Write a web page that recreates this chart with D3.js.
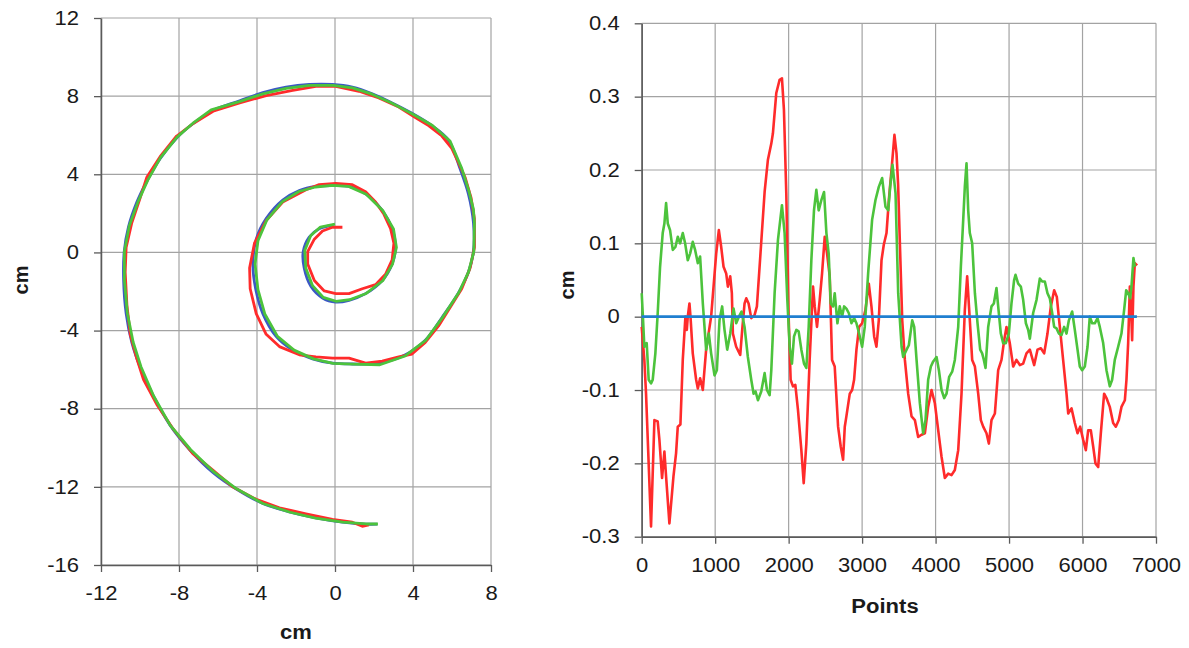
<!DOCTYPE html>
<html><head><meta charset="utf-8">
<script src="https://cdn.jsdelivr.net/npm/d3@7"></script>
<style>body{margin:0;background:#fff}svg{display:block}text{font-family:"Liberation Sans",Arial,sans-serif;fill:#1a1a1a}</style>
</head><body><svg id="c" width="1189" height="648"></svg>
<script>
// ---- tick labels ----
const spiralXTicks = [-12,-8,-4,0,4,8];
const spiralYTicks = [12,8,4,0,-4,-8,-12,-16];
const pointsXTicks = [0,1000,2000,3000,4000,5000,6000,7000];
const devYTicks = [0.4,0.3,0.2,0.1,0,-0.1,-0.2,-0.3];

// ---- spiral traces (cm) ----
const spiralBlue = [[-0.08,1.40],[-0.81,1.21],[-1.32,0.78],[-1.63,0.04],[-1.58,-0.80],[-1.23,-1.75],[-0.64,-2.33],[0.04,-2.54],[0.72,-2.45],[1.57,-2.11],[2.42,-1.44],[2.93,-0.59],[3.10,0.25],[2.93,1.21],[2.42,2.16],[1.57,3.0],[0.72,3.38],[-0.13,3.42],[-0.98,3.38],[-1.83,3.17],[-2.68,2.68],[-3.53,1.73],[-4.04,0.68],[-4.21,-0.59],[-4.07,-1.86],[-3.70,-3.13],[-3.02,-4.29],[-2.17,-4.99],[-1.15,-5.45],[-0.13,-5.67],[0.89,-5.71],[2.25,-5.67],[3.61,-5.24],[4.63,-4.50],[5.48,-3.34],[6.33,-2.07],[6.84,-1.01],[7.10,0.04],[7.10,1.52],[6.84,3.00],[6.42,4.27],[5.82,5.75],[4.97,6.49],[3.95,7.12],[2.93,7.65],[1.91,8.12],[0.89,8.46],[-0.13,8.60],[-1.32,8.60],[-2.51,8.46],[-3.70,8.18],[-4.89,7.76],[-6.25,7.27],[-7.27,6.60],[-8.12,5.86],[-8.97,4.80],[-9.65,3.64],[-10.16,2.58],[-10.59,1.31],[-10.81,0.04],[-10.84,-1.44],[-10.71,-3.13],[-10.42,-4.61],[-9.99,-5.88],[-9.31,-7.36],[-8.46,-8.84],[-7.44,-10.11],[-6.25,-11.27],[-5.06,-12.11],[-3.70,-12.85],[-2.34,-13.28],[-0.98,-13.59],[0.38,-13.81],[1.57,-13.91],[2.17,-13.91]];
const spiralRed = [[0.38,1.29],[-0.13,1.29],[-0.64,1.1],[-1.06,0.68],[-1.40,0.04],[-1.40,-0.59],[-1.06,-1.44],[-0.55,-1.97],[0.04,-2.11],[0.72,-2.11],[1.40,-1.86],[2.08,-1.65],[2.59,-1.12],[2.93,-0.38],[3.02,0.47],[2.85,1.21],[2.51,1.95],[2.08,2.58],[1.57,3.11],[0.89,3.47],[0.04,3.53],[-0.81,3.47],[-1.49,3.21],[-2.68,2.58],[-3.53,1.63],[-4.13,0.47],[-4.38,-0.80],[-4.35,-1.86],[-4.04,-3.13],[-3.53,-4.19],[-2.85,-4.82],[-1.83,-5.24],[-0.98,-5.35],[-0.13,-5.41],[0.72,-5.41],[1.57,-5.67],[2.42,-5.56],[3.27,-5.35],[3.95,-5.20],[4.63,-4.61],[5.31,-3.76],[5.91,-2.81],[6.50,-1.86],[6.93,-0.80],[7.15,0.25],[7.15,1.73],[6.98,2.79],[6.67,3.85],[6.33,4.59],[5.99,5.33],[5.48,5.96],[4.80,6.49],[4.12,6.91],[3.27,7.44],[2.25,7.91],[1.23,8.25],[0.04,8.50],[-0.98,8.50],[-2.17,8.29],[-3.53,8.03],[-4.89,7.65],[-6.25,7.23],[-7.27,6.60],[-8.12,5.96],[-8.97,4.90],[-9.65,3.85],[-9.99,2.79],[-10.42,1.52],[-10.71,0.25],[-10.76,-1.01],[-10.67,-2.71],[-10.50,-4.19],[-10.16,-5.45],[-9.82,-6.51],[-9.14,-7.78],[-8.29,-9.05],[-7.27,-10.32],[-6.25,-11.16],[-5.23,-12.01],[-4.04,-12.64],[-2.85,-13.07],[-1.49,-13.38],[-0.13,-13.66],[0.89,-13.81],[1.40,-14.02],[1.74,-13.95]];
const spiralGreen = [[0.0,1.45],[-0.75,1.3],[-1.25,0.85],[-1.55,0.1],[-1.5,-0.8],[-1.15,-1.7],[-0.6,-2.3],[0.05,-2.5],[0.75,-2.42],[1.6,-2.1],[2.45,-1.45],[2.95,-0.6],[3.15,0.25],[3.0,1.2],[2.45,2.15],[1.6,2.98],[0.7,3.38],[-0.15,3.43],[-1.0,3.35],[-1.85,3.12],[-2.7,2.6],[-3.5,1.65],[-3.95,0.6],[-4.1,-0.6],[-3.95,-1.9],[-3.6,-3.15],[-2.95,-4.3],[-2.1,-5.0],[-1.1,-5.45],[-0.1,-5.68],[0.9,-5.72],[2.3,-5.75],[3.6,-5.3],[4.65,-4.5],[5.5,-3.35],[6.35,-2.05],[6.85,-1.0],[7.12,0.05],[7.15,1.5],[7.1,2.2],[6.85,3.2],[6.5,4.3],[5.9,5.7],[5.0,6.5],[3.95,7.1],[2.9,7.65],[1.9,8.1],[0.9,8.42],[-0.1,8.55],[-1.3,8.55],[-2.5,8.4],[-3.7,8.12],[-4.9,7.72],[-6.35,7.3],[-7.3,6.6],[-8.1,5.9],[-8.95,4.85],[-9.6,3.7],[-10.1,2.6],[-10.55,1.35],[-10.8,0.05],[-10.8,-1.4],[-10.65,-3.1],[-10.35,-4.6],[-9.95,-5.85],[-9.3,-7.35],[-8.45,-8.85],[-7.4,-10.1],[-6.2,-11.25],[-5.05,-12.1],[-3.7,-12.85],[-2.3,-13.3],[-1.0,-13.6],[0.4,-13.8],[1.6,-13.9],[2.2,-13.9]];

// ---- deviation series (point index, cm) ----
const devBlue = [[0,0],[6740,0]];
const devRed = [[0,-0.014],[36,-0.059],[59,-0.105],[127,-0.286],[173,-0.141],[218,-0.143],[241,-0.168],[277,-0.22],[309,-0.184],[332,-0.218],[377,-0.282],[432,-0.218],[468,-0.186],[491,-0.15],[527,-0.147],[559,-0.059],[595,0],[614,-0.018],[627,0],[650,0.018],[664,0],[695,-0.05],[741,-0.086],[764,-0.098],[795,-0.084],[832,-0.1],[877,-0.045],[945,0],[1014,0.086],[1050,0.118],[1082,0.095],[1114,0.068],[1150,0.059],[1173,0.041],[1205,0.055],[1227,0.032],[1241,-0.023],[1286,-0.041],[1341,-0.052],[1368,-0.018],[1400,0.018],[1423,0.025],[1455,0.018],[1491,-0.002],[1536,0.002],[1568,0.014],[1614,0.082],[1673,0.17],[1718,0.214],[1764,0.236],[1786,0.25],[1832,0.305],[1877,0.323],[1909,0.325],[1936,0.282],[1968,0.168],[2000,0],[2027,-0.086],[2059,-0.095],[2091,-0.093],[2127,-0.127],[2173,-0.182],[2205,-0.227],[2241,-0.173],[2286,-0.059],[2332,0.041],[2355,0.014],[2386,-0.014],[2423,0.023],[2455,0.059],[2491,0.109],[2523,0.086],[2559,0.055],[2591,-0.059],[2627,-0.068],[2673,-0.15],[2709,-0.177],[2741,-0.195],[2764,-0.15],[2786,-0.136],[2832,-0.105],[2864,-0.1],[2891,-0.086],[2923,-0.045],[2959,-0.014],[3000,-0.009],[3045,0.009],[3091,0.045],[3127,0.014],[3164,-0.027],[3195,-0.041],[3227,-0.005],[3264,0.077],[3295,0.098],[3332,0.114],[3364,0.159],[3400,0.2],[3440,0.248],[3468,0.223],[3490,0.18],[3514,0.1],[3546,-0.005],[3582,-0.059],[3627,-0.105],[3673,-0.136],[3718,-0.141],[3763,-0.164],[3809,-0.161],[3854,-0.159],[3899,-0.123],[3945,-0.1],[3990,-0.118],[4036,-0.155],[4081,-0.191],[4126,-0.22],[4172,-0.214],[4217,-0.216],[4262,-0.209],[4308,-0.182],[4353,-0.105],[4398,0.009],[4430,0.055],[4466,-0.005],[4498,-0.059],[4535,-0.068],[4580,-0.105],[4616,-0.141],[4648,-0.15],[4693,-0.159],[4725,-0.173],[4761,-0.141],[4807,-0.132],[4852,-0.073],[4897,-0.059],[4934,-0.032],[4965,-0.014],[5010,-0.036],[5056,-0.068],[5101,-0.059],[5147,-0.066],[5192,-0.064],[5237,-0.05],[5283,-0.045],[5342,-0.066],[5387,-0.045],[5433,-0.043],[5478,-0.05],[5523,-0.023],[5569,0.014],[5614,0.036],[5650,0.027],[5691,-0.014],[5736,-0.059],[5782,-0.105],[5805,-0.132],[5850,-0.125],[5895,-0.145],[5932,-0.159],[5968,-0.15],[6009,-0.168],[6045,-0.182],[6077,-0.155],[6113,-0.155],[6145,-0.177],[6176,-0.2],[6213,-0.205],[6249,-0.159],[6294,-0.105],[6326,-0.111],[6371,-0.123],[6417,-0.145],[6453,-0.15],[6494,-0.141],[6530,-0.123],[6576,-0.114],[6598,-0.086],[6621,-0.036],[6644,0.041],[6666,-0.005],[6675,-0.032],[6693,0.041],[6712,0.073],[6743,0.07]];
const devGreen = [[0,0.032],[14,0.005],[36,-0.041],[68,-0.036],[95,-0.086],[127,-0.091],[150,-0.086],[186,-0.05],[218,0.005],[250,0.068],[286,0.114],[309,0.127],[332,0.155],[355,0.127],[386,0.118],[423,0.091],[459,0.095],[491,0.109],[523,0.1],[559,0.114],[591,0.1],[627,0.077],[659,0.086],[695,0.102],[727,0.091],[764,0.073],[795,0.082],[832,0.018],[877,-0.045],[914,-0.023],[945,-0.05],[991,-0.08],[1023,-0.073],[1059,-0.005],[1095,0.014],[1127,-0.018],[1164,-0.045],[1205,-0.023],[1250,0.011],[1286,-0.009],[1323,0],[1359,0.007],[1400,-0.014],[1445,-0.055],[1491,-0.086],[1523,-0.105],[1550,-0.102],[1582,-0.114],[1627,-0.102],[1673,-0.077],[1705,-0.1],[1741,-0.107],[1764,-0.073],[1809,0.032],[1855,0.105],[1909,0.152],[1945,0.114],[1982,0.023],[2014,-0.041],[2045,-0.064],[2073,-0.027],[2105,-0.018],[2136,-0.02],[2173,-0.045],[2209,-0.064],[2241,-0.07],[2273,-0.014],[2309,0.077],[2345,0.145],[2377,0.173],[2409,0.145],[2445,0.159],[2482,0.17],[2514,0.114],[2545,0.086],[2573,0.018],[2605,0.014],[2627,0.032],[2664,-0.009],[2695,0.014],[2727,0],[2755,0.014],[2786,0.011],[2818,0.005],[2855,-0.009],[2891,-0.002],[2923,-0.009],[2959,-0.023],[3000,-0.041],[3036,-0.014],[3082,0.059],[3136,0.132],[3182,0.159],[3227,0.177],[3273,0.189],[3318,0.15],[3355,0.145],[3382,0.177],[3414,0.207],[3455,0.168],[3491,0.032],[3537,-0.041],[3559,-0.055],[3605,-0.045],[3636,-0.039],[3682,-0.005],[3709,-0.014],[3741,-0.059],[3786,-0.118],[3831,-0.159],[3863,-0.141],[3899,-0.086],[3936,-0.068],[3968,-0.061],[4013,-0.055],[4045,-0.073],[4081,-0.1],[4117,-0.111],[4149,-0.105],[4185,-0.082],[4226,-0.075],[4262,-0.059],[4308,-0.014],[4344,0.068],[4376,0.132],[4398,0.177],[4421,0.209],[4444,0.145],[4466,0.114],[4498,0.1],[4535,0.032],[4571,-0.009],[4607,-0.045],[4634,-0.05],[4657,-0.059],[4680,-0.07],[4716,-0.014],[4761,0.014],[4793,0.018],[4829,0.039],[4852,0.014],[4888,-0.023],[4920,-0.036],[4956,-0.036],[4997,-0.023],[5033,0.018],[5069,0.05],[5088,0.057],[5124,0.045],[5160,0.041],[5192,0.023],[5229,-0.009],[5260,-0.018],[5283,-0.03],[5328,0.005],[5374,0.023],[5419,0.052],[5451,0.048],[5487,0.048],[5523,0.032],[5555,0.025],[5587,0.005],[5614,-0.014],[5646,-0.016],[5678,-0.023],[5714,-0.025],[5750,-0.014],[5782,-0.023],[5814,-0.005],[5859,0.007],[5895,-0.018],[5932,-0.045],[5963,-0.068],[5995,-0.073],[6031,-0.068],[6068,-0.041],[6099,0],[6131,-0.009],[6167,-0.009],[6204,-0.002],[6235,-0.014],[6281,-0.036],[6326,-0.073],[6371,-0.095],[6403,-0.086],[6439,-0.059],[6485,-0.041],[6530,-0.023],[6566,0.009],[6594,0.036],[6621,0.032],[6648,0.025],[6666,0.041],[6693,0.08],[6712,0.068]];

const C = {red:"#ff2b2b", green:"#4cc33c", blueL:"#3b58c4", blueR:"#1f7fd0", grid:"#a3a3a3", axis:"#5a5a5a"};
const SX = 1.13; // horizontal text stretch seen in the reference
const svg = d3.select("#c");
svg.append("rect").attr("width",1189).attr("height",648).attr("fill","#fff");
const fmt = d => String(+d.toFixed(1));

function panel(xs, ys, xt, yt) {
  const g = svg.append("g");
  const [x0,x1] = xs.range(), [y0,y1] = ys.range();
  g.append("g").selectAll("line").data(xt).join("line")
    .attr("x1",d=>xs(d)).attr("x2",d=>xs(d)).attr("y1",y0).attr("y2",y1)
    .attr("stroke",C.grid).attr("stroke-width",1.2);
  g.append("g").selectAll("line").data(yt).join("line")
    .attr("y1",d=>ys(d)).attr("y2",d=>ys(d)).attr("x1",x0).attr("x2",x1)
    .attr("stroke",C.grid).attr("stroke-width",1.2);
  const ax = g.append("g").attr("transform",`translate(0,${y0})`)
    .call(d3.axisBottom(xs).tickValues(xt).tickFormat(fmt).tickSize(7).tickPadding(14).tickSizeOuter(0));
  const ay = g.append("g").attr("transform",`translate(${x0},0)`)
    .call(d3.axisLeft(ys).tickValues(yt).tickFormat(fmt).tickSize(7).tickPadding(15).tickSizeOuter(0));
  [ax,ay].forEach(a=>{
    a.select(".domain").attr("stroke",C.axis).attr("stroke-width",1.5);
    a.selectAll(".tick line").attr("stroke",C.axis).attr("stroke-width",1.3);
    a.selectAll(".tick text").attr("font-size",19.5).attr("font-family","Liberation Sans, Arial, sans-serif").attr("fill","#1a1a1a");
  });
  ax.selectAll(".tick text").attr("transform",`scale(${SX},1)`);
  ay.selectAll(".tick text").attr("x",-22/SX).attr("transform",`scale(${SX},1)`);
  return g;
}
function label(x, y, rot, txt) {
  svg.append("text").attr("transform",`translate(${x},${y}) rotate(${rot}) scale(${SX},1)`)
    .attr("text-anchor","middle").attr("font-size",19.5).attr("font-weight","bold").text(txt);
}

// Left panel
const xL = d3.scaleLinear([-12,8],[101,491]);
const yL = d3.scaleLinear([-16,12],[565,18]);
const gL = panel(xL, yL, spiralXTicks, spiralYTicks);
const lineL = d3.line().x(d=>xL(d[0])).y(d=>yL(d[1]));
gL.append("path").datum(spiralBlue).attr("d",lineL.curve(d3.curveCatmullRom)).attr("fill","none").attr("stroke",C.blueL).attr("stroke-width",2.8);
gL.append("path").datum(spiralRed).attr("d",lineL.curve(d3.curveLinear)).attr("fill","none").attr("stroke",C.red).attr("stroke-width",2.8).attr("stroke-linejoin","round");
gL.append("path").datum(spiralGreen).attr("d",lineL.curve(d3.curveLinear)).attr("fill","none").attr("stroke",C.green).attr("stroke-width",2.8).attr("stroke-linejoin","round");
label(296, 639, 0, "cm");
svg.append("text").attr("transform","translate(28,280) rotate(-90)").attr("text-anchor","middle").attr("font-size",20).attr("font-weight","bold").text("cm");

// Right panel
const xR = d3.scaleLinear([0,7000],[641.7,1156]);
const yR = d3.scaleLinear([-0.3,0.4],[536.7,23.3]);
const gR = panel(xR, yR, pointsXTicks, devYTicks);
const lineR = d3.line().x(d=>xR(d[0])).y(d=>yR(d[1])).curve(d3.curveLinear);
gR.append("path").datum(devRed).attr("d",lineR).attr("fill","none").attr("stroke",C.red).attr("stroke-width",2.6).attr("stroke-linejoin","round");
gR.append("path").datum(devGreen).attr("d",lineR).attr("fill","none").attr("stroke",C.green).attr("stroke-width",2.6).attr("stroke-linejoin","round");
gR.append("path").datum(devBlue).attr("d",lineR).attr("fill","none").attr("stroke",C.blueR).attr("stroke-width",2.6);
label(885, 613, 0, "Points");
svg.append("text").attr("transform","translate(574,285) rotate(-90)").attr("text-anchor","middle").attr("font-size",20).attr("font-weight","bold").text("cm");
</script></body></html>
